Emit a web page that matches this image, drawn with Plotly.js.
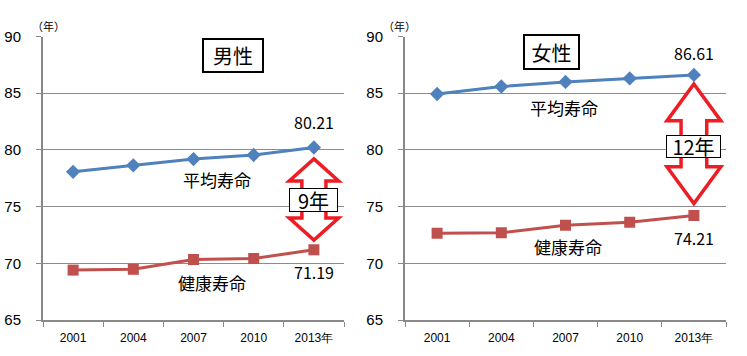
<!DOCTYPE html>
<html><head><meta charset="utf-8">
<script src="https://cdn.plot.ly/plotly-3.0.1.min.js"></script>
<style>body{margin:0;padding:0;background:#fff}#chart{width:747px;height:356px}</style>
</head><body><div id="chart"></div>
<script>
// ---- data ----
const years = ['2001', '2004', '2007', '2010', '2013年'];
const maleLife = [78.07, 78.64, 79.19, 79.55, 80.21];
const maleHealth = [69.40, 69.47, 70.33, 70.42, 71.19];
const femaleLife = [84.93, 85.59, 85.99, 86.30, 86.61];
const femaleHealth = [72.65, 72.69, 73.36, 73.62, 74.21];
const yTicks = [65, 70, 75, 80, 85, 90];
const panelTitles = ['男性', '女性'];
const seriesNames = ['平均寿命', '健康寿命'];
const gapLabels = ['9年', '12年'];
const unitLabel = '（年）';

// ---- styles ----
const W = 747, H = 356;
const px = v => v / W, py = v => 1 - v / H;
const BLUE = '#4f81bd', RED = '#c0504d', ARROW = '#ee1c25';
const JP = '"Noto Sans CJK JP", "Noto Sans", sans-serif';
const NUM = '"Liberation Sans", Arial, sans-serif';

function lineTrace(y, color, sym, size, xa, ya, name) {
  return {x: years, y: y, type: 'scatter', mode: 'lines+markers', name: name,
    xaxis: xa, yaxis: ya, line: {color: color, width: 3},
    marker: {symbol: sym, size: size, color: color}, showlegend: false, hoverinfo: 'skip'};
}
const traces = [
  lineTrace(maleLife, BLUE, 'diamond', 11, 'x', 'y', seriesNames[0]),
  lineTrace(maleHealth, RED, 'square', 11, 'x', 'y', seriesNames[1]),
  lineTrace(femaleLife, BLUE, 'diamond', 11, 'x2', 'y2', seriesNames[0]),
  lineTrace(femaleHealth, RED, 'square', 11, 'x2', 'y2', seriesNames[1])
];

function xAxis(domain, anchor) {
  return {domain: domain, anchor: anchor, type: 'category', range: [-0.5, years.length - 0.5],
    tickson: 'boundaries', ticks: 'outside', ticklen: 5, tickcolor: '#898989', tickwidth: 1,
    showline: true, linecolor: '#898989', linewidth: 1.5, showgrid: false, zeroline: false,
    tickfont: {family: NUM, size: 12, color: '#000'}, ticklabelstandoff: 6, fixedrange: true};
}
function yAxis(domain, anchor) {
  return {domain: domain, anchor: anchor, range: [65, 90], tickvals: yTicks, ticktext: yTicks.map(String),
    ticks: 'outside', ticklen: 5, tickcolor: '#898989', tickwidth: 1,
    showline: true, linecolor: '#898989', linewidth: 2, showgrid: true, gridcolor: '#8c8c8c', gridwidth: 1,
    zeroline: false, tickfont: {family: NUM, size: 15, color: '#000'}, ticklabelstandoff: 12, fixedrange: true};
}

const yDom = [py(320), py(36.5)];

function arrowPath(xc, yTop, yBot, hw, sw, hh) {
  const p = [[xc, yTop], [xc + hw, yTop - hh], [xc + sw, yTop - hh], [xc + sw, yBot + hh],
    [xc + hw, yBot + hh], [xc, yBot], [xc - hw, yBot + hh], [xc - sw, yBot + hh],
    [xc - sw, yTop - hh], [xc - hw, yTop - hh]];
  return 'M' + p.map(q => q[0] + ',' + q[1]).join(' L') + ' Z';
}
const last = years.length - 1;
const shapes = [
  {type: 'path', xref: 'x', yref: 'y', layer: 'above',
   path: arrowPath(last, maleLife[last] - 1.0, maleHealth[last] + 0.85, 0.41, 0.2, 1.95),
   line: {color: ARROW, width: 3.5}, fillcolor: '#fff'},
  {type: 'path', xref: 'x2', yref: 'y2', layer: 'above',
   path: arrowPath(last, femaleLife[last] - 0.8, femaleHealth[last] + 1.05, 0.42, 0.2, 3.25),
   line: {color: ARROW, width: 3.5}, fillcolor: '#fff'}
];

const ann = [];
// unit labels
ann.push({xref: 'paper', yref: 'paper', x: px(30), y: py(16), text: unitLabel, showarrow: false,
  font: {family: JP, size: 11, color: '#000'}});
ann.push({xref: 'paper', yref: 'paper', x: px(399), y: py(16), text: unitLabel, showarrow: false,
  font: {family: JP, size: 11, color: '#000'}});
// panel titles
ann.push({xref: 'paper', yref: 'paper', x: px(202), y: py(37.5), text: panelTitles[0], showarrow: false,
  font: {family: JP, size: 20, color: '#000'}, bgcolor: '#fff', bordercolor: '#000', borderwidth: 2,
  width: 58, height: 31, borderpad: 0});
ann.push({xref: 'paper', yref: 'paper', x: px(579.5), y: py(34), text: panelTitles[1], showarrow: false,
  font: {family: JP, size: 20, color: '#000'}, bgcolor: '#fff', bordercolor: '#000', borderwidth: 2,
  width: 53, height: 32, borderpad: 0});
// value labels at last point
function valLabel(xa, ya, v, shift) {
  return {xref: xa, yref: ya, x: last, y: v, yshift: shift, text: v.toFixed(2), showarrow: false,
    font: {family: JP, size: 16, color: '#000'}};
}
ann.push(valLabel('x', 'y', maleLife[last], 26));
ann.push(valLabel('x', 'y', maleHealth[last], -22));
ann.push(valLabel('x2', 'y2', femaleLife[last], 22));
ann.push(valLabel('x2', 'y2', femaleHealth[last], -22));
// series labels
function serLabel(xa, ya, x, y, t) {
  return {xref: xa, yref: ya, x: x, y: y, text: t, showarrow: false,
    font: {family: JP, size: 17, color: '#000'}};
}
ann.push(serLabel('x', 'y', 2.39, 77.37, seriesNames[0]));
ann.push(serLabel('x', 'y', 2.31, 68.27, seriesNames[1]));
ann.push(serLabel('x2', 'y2', 1.98, 83.74, seriesNames[0]));
ann.push(serLabel('x2', 'y2', 2.04, 71.48, seriesNames[1]));
// gap labels
ann.push({xref: 'x', yref: 'y', x: last, y: (maleLife[last] + maleHealth[last]) / 2 - 0.1, text: gapLabels[0],
  showarrow: false, font: {family: JP, size: 20, color: '#000'}, bgcolor: '#fff', bordercolor: '#000',
  borderwidth: 1, width: 47, height: 22, borderpad: 0});
ann.push({xref: 'x2', yref: 'y2', x: last, y: (femaleLife[last] + femaleHealth[last]) / 2 - 0.07, text: gapLabels[1],
  showarrow: false, font: {family: JP, size: 20, color: '#000'}, bgcolor: '#fff', bordercolor: '#000',
  borderwidth: 1, width: 53, height: 21, borderpad: 0});

const layout = {
  width: W, height: H, margin: {l: 0, r: 0, t: 0, b: 0}, paper_bgcolor: '#fff', plot_bgcolor: '#fff',
  xaxis: xAxis([px(43), px(344)], 'y'), yaxis: yAxis(yDom, 'x'),
  xaxis2: xAxis([px(405), px(726)], 'y2'), yaxis2: yAxis(yDom, 'x2'),
  shapes: shapes, annotations: ann, showlegend: false
};
Plotly.newPlot('chart', traces, layout, {displayModeBar: false, staticPlot: true});
</script></body></html>
